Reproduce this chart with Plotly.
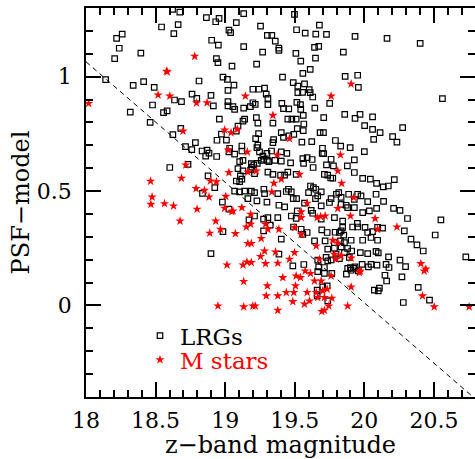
import plotly.graph_objects as go

# ---- data ----
lrg_z = [
 18.622,18.674,18.543,18.662,18.631,18.260,18.220,18.239,18.206,18.394,18.865,18.956,18.932,19.027,19.039,18.903,
 18.951,18.937,18.948,19.049,18.141,18.339,18.414,18.490,18.812,18.984,19.016,19.063,19.020,18.478,18.318,18.557,
 18.583,18.636,18.686,18.762,18.796,18.898,18.915,19.020,19.020,19.056,18.958,18.461,18.681,18.624,18.973,18.941,
 19.009,18.786,18.715,18.760,18.834,18.870,18.884,18.860,18.939,19.032,19.027,18.733,18.602,18.877,18.925,18.837,
 19.133,19.080,19.498,19.677,19.254,19.303,19.335,19.360,19.513,19.575,19.651,19.728,19.933,20.163,20.401,19.133,
 19.269,19.386,19.386,19.508,19.642,19.672,19.849,19.649,19.543,19.226,19.611,19.558,19.412,19.862,19.952,19.957,
 20.561,19.489,19.522,19.570,19.604,19.522,19.556,19.629,19.611,19.199,19.242,19.283,19.295,19.307,19.307,19.216,
 19.199,19.751,19.068,19.133,19.181,19.407,19.419,19.457,19.515,19.541,19.644,19.543,19.450,19.479,19.510,19.561,
 19.708,19.859,19.933,19.969,20.059,19.140,19.128,19.224,19.235,19.343,19.565,19.518,19.561,20.002,20.059,20.113,
 20.275,20.203,20.234,20.067,19.092,19.080,19.240,19.219,19.235,19.403,19.419,19.343,19.348,19.493,19.457,19.551,
 19.622,19.682,19.706,19.699,19.697,19.708,19.792,19.830,19.898,20.000,19.120,19.120,19.228,19.247,19.300,19.333,
 19.271,19.403,19.443,19.068,19.104,19.128,19.188,19.206,19.192,19.231,19.259,19.278,19.303,19.314,19.357,19.403,
 19.470,19.558,19.589,19.563,19.625,19.632,19.761,19.728,19.778,19.737,19.758,19.773,19.878,19.928,19.928,19.092,
 19.128,19.109,19.104,19.080,19.120,19.183,19.211,19.307,19.343,19.398,19.427,19.450,19.510,19.713,19.988,20.043,
 20.088,20.136,20.172,20.215,19.068,19.104,19.140,19.188,19.211,19.283,19.278,19.378,19.439,19.455,19.475,19.513,
 19.489,19.613,19.634,19.651,19.690,19.599,19.665,19.649,19.761,19.833,19.799,19.816,19.887,19.952,19.976,19.928,
 20.084,19.163,
 18.980,19.027,19.211,19.171,19.276,19.324,19.276,18.984,18.898,19.403,19.386,19.300,19.386,19.228,19.307,19.378,
 19.570,19.618,19.690,19.749,19.833,19.880,19.928,20.088,20.210,20.256,20.310,20.550,19.475,19.510,19.690,19.785,
 20.024,20.138,19.427,19.518,19.629,19.869,19.988,20.036,19.844,19.950,
 19.491,19.546,19.589,19.558,19.694,19.733,19.790,19.833,19.844,19.916,19.952,20.005,20.024,20.059,20.095,20.131,
 19.642,19.718,19.785,19.828,19.857,19.905,19.988,20.048,20.095,20.287,20.335,20.378,20.423,20.509,19.737,19.785,
 19.833,19.880,19.909,19.971,20.024,20.084,20.100,20.174,20.256,20.296,20.156,20.177,19.725,19.665,19.761,19.821,
 19.892,19.672,19.713,19.665,19.713,19.766,19.880,19.900,19.923,19.933,19.984,20.029,20.091,19.871,19.905,20.148,
 20.160,20.270,20.729,19.661,19.661,19.701,19.733,19.737,20.072,20.100,20.108,20.387,20.468,20.280,19.486,19.565,
 19.821,19.852,19.797,19.857,19.737,19.957,20.048]
lrg_dm = [
 1.294,1.282,1.217,1.227,1.188,1.186,1.167,1.124,1.079,1.103,1.258,1.255,1.240,1.203,1.192,1.159,
 1.138,1.079,1.061,1.046,0.987,0.962,0.978,0.953,0.981,0.998,0.988,0.963,0.940,0.876,0.845,0.843,
 0.850,0.898,0.891,0.924,0.905,0.918,0.872,0.891,0.872,0.869,0.814,0.800,0.774,0.747,0.749,0.722,
 0.723,0.712,0.694,0.681,0.675,0.679,0.666,0.653,0.651,0.687,0.671,0.617,0.603,0.566,0.515,0.490,
 1.275,1.236,1.272,1.225,1.221,1.180,1.180,1.155,1.205,1.190,1.186,1.185,1.176,1.167,1.145,1.131,
 1.107,1.125,1.115,1.102,1.128,1.132,1.107,1.081,1.068,1.055,1.032,1.014,0.998,1.001,1.006,0.953,
 0.904,0.974,0.959,0.968,0.943,0.930,0.931,0.911,0.930,0.945,0.945,0.950,0.924,0.905,0.878,0.879,
 0.886,0.883,0.857,0.862,0.869,0.883,0.860,0.859,0.888,0.878,0.862,0.857,0.814,0.814,0.814,0.831,
 0.821,0.835,0.818,0.835,0.824,0.814,0.806,0.821,0.797,0.797,0.793,0.773,0.764,0.786,0.770,0.755,
 0.777,0.738,0.714,0.726,0.784,0.762,0.751,0.729,0.701,0.755,0.735,0.712,0.725,0.748,0.741,0.714,
 0.716,0.755,0.755,0.687,0.665,0.664,0.721,0.696,0.690,0.672,0.697,0.675,0.690,0.671,0.665,0.675,
 0.653,0.671,0.665,0.661,0.629,0.634,0.620,0.614,0.605,0.621,0.634,0.639,0.634,0.629,0.634,0.631,
 0.623,0.642,0.646,0.621,0.638,0.603,0.639,0.614,0.610,0.570,0.557,0.556,0.610,0.636,0.581,0.598,
 0.588,0.566,0.541,0.544,0.552,0.592,0.576,0.583,0.573,0.570,0.570,0.583,0.573,0.573,0.555,0.552,
 0.534,0.518,0.522,0.550,0.500,0.496,0.500,0.500,0.493,0.489,0.508,0.489,0.498,0.508,0.496,0.467,
 0.467,0.522,0.515,0.508,0.496,0.493,0.479,0.467,0.467,0.472,0.486,0.493,0.486,0.486,0.479,0.464,
 0.486,0.467,
 0.452,0.421,0.391,0.374,0.377,0.351,0.326,0.323,0.227,0.290,0.224,0.452,0.438,0.457,0.384,0.384,
 0.447,0.416,0.435,0.450,0.442,0.428,0.428,0.424,0.424,0.416,0.380,0.374,0.391,0.381,0.377,0.384,
 0.454,0.455,0.431,0.413,0.403,0.438,0.406,0.413,0.369,0.359,
 0.343,0.333,0.319,0.311,0.330,0.319,0.320,0.326,0.341,0.343,0.343,0.341,0.319,0.323,0.341,0.338,
 0.282,0.282,0.275,0.282,0.275,0.285,0.285,0.297,0.285,0.326,0.290,0.265,0.238,0.308,0.246,0.250,
 0.256,0.249,0.238,0.231,0.227,0.236,0.230,0.212,0.198,0.170,0.180,0.166,0.210,0.198,0.199,0.205,
 0.210,0.169,0.166,0.148,0.140,0.140,0.162,0.166,0.162,0.169,0.180,0.169,0.176,0.137,0.154,0.132,
 0.107,0.125,0.212,0.067,0.042,0.081,0.086,0.020,0.067,0.064,0.076,0.079,0.023,0.013,0.173,0.179,
 0.319,0.307,0.224,0.231,0.195,0.151,0.180]

mstar_z = [
 18.781,18.578,18.584,18.019,18.518,18.602,18.794,18.870,18.996,19.042,18.697,19.023,18.717,18.686,18.464,19.027,
 18.894,18.937,18.791,18.851,18.884,19.004,18.475,18.466,18.564,18.629,18.676,
 19.905,19.761,19.145,19.343,19.087,19.462,19.159,19.374,19.828,19.163,19.224,19.534,19.809,19.403,19.350,19.837,
 19.335,19.923,
 18.798,18.996,18.932,18.889,18.966,19.073,19.056,19.120,19.183,19.183,19.152,19.259,19.163,19.188,19.290,19.307,
 19.386,19.283,19.254,19.362,19.156,19.188,19.128,19.013,19.290,19.378,19.133,19.303,19.295,19.378,19.414,19.047,
 19.589,19.809,19.546,19.546,19.685,19.718,19.661,19.900,20.077,
 19.654,19.462,19.498,19.505,19.510,19.541,19.575,19.613,19.589,19.654,19.642,19.690,19.761,19.785,19.797,19.833,
 19.905,19.809,19.773,19.677,19.701,19.733,19.713,19.766,19.665,19.713,19.694,19.744,19.486,19.570,19.606,19.378,
 19.133,19.199,19.216,19.880,19.905,19.964,19.971,20.095,20.234,20.406,20.430,20.442,20.418,20.502,20.753,19.498,
 19.546,18.948,19.439,19.493]
mstar_dm = [
 1.089,1.024,1.021,0.883,0.920,0.915,0.885,0.886,0.767,0.755,0.762,0.679,0.614,0.556,0.543,0.581,
 0.544,0.541,0.511,0.503,0.474,0.477,0.474,0.442,0.445,0.435,0.369,
 0.968,0.915,0.915,0.831,0.770,0.729,0.671,0.658,0.658,0.583,0.588,0.573,0.588,0.552,0.534,0.534,
 0.496,0.472,
 0.421,0.425,0.369,0.316,0.333,0.314,0.413,0.428,0.399,0.355,0.343,0.293,0.271,0.271,0.355,0.333,
 0.333,0.238,0.214,0.234,0.190,0.188,0.177,0.177,0.183,0.185,0.105,0.086,0.042,0.042,0.122,0.411,
 0.447,0.424,0.409,0.384,0.389,0.391,0.384,0.391,0.380,
 0.260,0.202,0.231,0.086,0.129,0.122,0.151,0.140,0.057,0.057,0.107,0.107,0.129,0.224,0.202,0.217,
 0.207,0.273,0.285,0.202,0.064,0.071,0.035,0.032,0.035,-0.021,-0.026,-0.002,0.017,0.006,0.020,-0.021,
 -0.006,-0.002,-0.002,-0.002,0.081,0.144,0.151,0.333,0.343,0.183,0.151,0.159,0.042,-0.006,-0.006,0.341,
 0.311,-0.002,0.057,0.057]

# dividing line
line_z = [18.0, 20.8]
line_dm = [1.065, -0.410]

x_range = [18.0, 20.795]
y_range = [-0.40, 1.30]

FONT = "DejaVu Serif"

fig = go.Figure()
fig.add_trace(go.Scatter(x=line_z, y=line_dm, mode="lines", showlegend=False, hoverinfo="skip",
                         line=dict(color="black", width=1, dash="5px,4px")))
fig.add_trace(go.Scatter(x=lrg_z, y=lrg_dm, mode="markers", name="LRGs", legend="legend",
                         marker=dict(symbol="square-open", size=5.5, color="black", line=dict(width=1.2, color="black"))))
fig.add_trace(go.Scatter(x=mstar_z, y=mstar_dm, mode="markers", name="M stars", legend="legend2",
                         marker=dict(symbol="star", size=7, color="red", line=dict(width=0))))

axis_common = dict(showgrid=False, zeroline=False, showline=True, linecolor="black", linewidth=1.5,
                   mirror="ticks", ticks="inside", ticklen=15, tickwidth=1.5, tickcolor="black",
                   automargin=False, tickfont=dict(family=FONT, size=22, color="black"))

fig.update_layout(
    width=475, height=459,
    margin=dict(l=86, r=0, t=8, b=62),
    paper_bgcolor="white", plot_bgcolor="white",
    xaxis=dict(range=x_range, tick0=18, dtick=0.5, ticklabelstandoff=3,
               minor=dict(tick0=18, dtick=0.1, ticks="inside", ticklen=7.5, tickwidth=1.5, tickcolor="black", showgrid=False),
               title=dict(text="z\u2212band magnitude", font=dict(family=FONT, size=24, color="black"), standoff=20),
               **axis_common),
    yaxis=dict(range=y_range, tick0=0, dtick=0.5, ticklabelstandoff=8,
               minor=dict(tick0=0, dtick=0.1, ticks="inside", ticklen=7.5, tickwidth=1.5, tickcolor="black", showgrid=False),
               title=dict(text="PSF\u2212model", font=dict(family=FONT, size=24, color="black"), standoff=0),
               **axis_common),
    legend=dict(x=0.1388, xanchor="left", y=0.1575, yanchor="middle", bgcolor="rgba(0,0,0,0)",
                font=dict(family=FONT, size=23, color="black")),
    legend2=dict(x=0.1388, xanchor="left", y=0.0958, yanchor="middle", bgcolor="rgba(0,0,0,0)",
                 font=dict(family=FONT, size=23, color="red")),
)

fig.write_html("out.html")
